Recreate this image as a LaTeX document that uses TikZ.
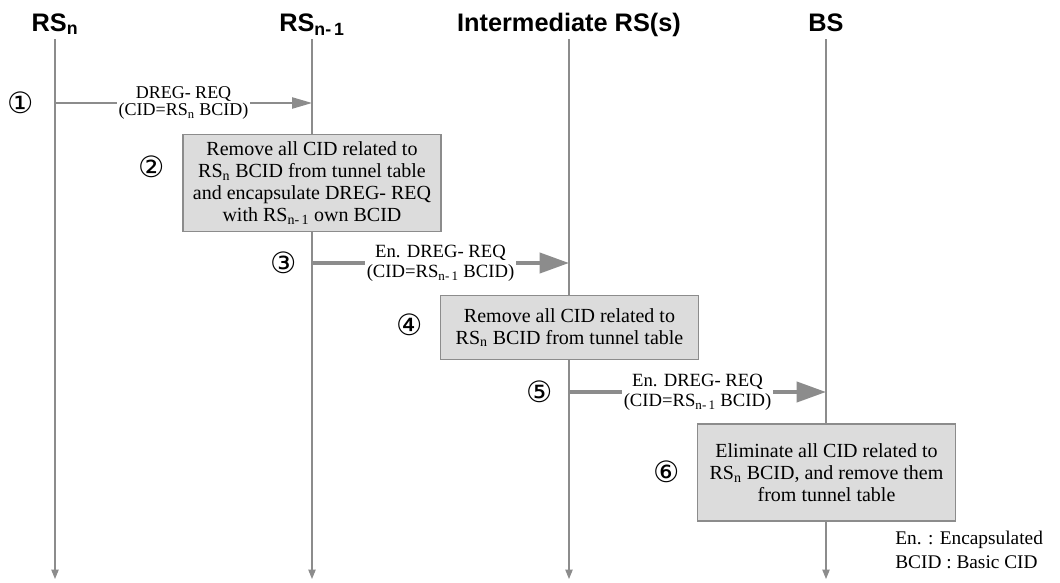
\documentclass[tikz,border=0pt]{standalone}
\usepackage{fontspec}
\setmainfont{Liberation Serif}
\newfontfamily\headfont{Liberation Sans}
\newfontfamily\symfont{DejaVu Sans}
\usetikzlibrary{arrows.meta}
\definecolor{lgray}{HTML}{8C8C8C}
\definecolor{boxfill}{HTML}{DCDCDC}
\begin{document}
\begin{tikzpicture}[x=0.75pt,y=-0.75pt,
  head/.style={font=\headfont\bfseries\fontsize{19}{20}\selectfont, anchor=base, inner sep=0pt},
  life/.style={draw=lgray, line width=0.8pt, -{Triangle[width=5.5pt,length=7pt]}},
  thinmsg/.style={draw=lgray, line width=1pt, -{Triangle[width=8.5pt,length=15pt]}},
  thickmsg/.style={draw=lgray, line width=3pt, -{Triangle[width=15pt,length=22pt]}},
  msgA/.style={fill=white, inner sep=1pt, align=center, font=\fontsize{13.5}{11}\selectfont},
  msgB/.style={fill=white, inner sep=1pt, align=center, font=\fontsize{14}{15}\selectfont},
  actbox/.style={draw=lgray, line width=0.8pt, fill=boxfill, align=center, inner sep=0pt,
    minimum width=193.5pt, font=\fontsize{15}{16.5}\selectfont},
  stepnum/.style={font=\symfont\fontsize{22}{22}\selectfont, inner sep=0pt},
  legend/.style={font=\fontsize{14.5}{17.5}\selectfont, align=left, anchor=north west, inner sep=0pt}
]
\useasboundingbox (0,0) rectangle (1060,582);

% headers
\node[head] (h1) at (55,31) {RS\textsubscript{n}};
\node[head] (h2) at (312,31) {RS\textsubscript{n-\,1}};
\node[head] (h3) at (569,31) {Intermediate RS(s)};
\node[head] (h4) at (826,31) {BS};

% lifeline ends
\coordinate (t1) at (55,39);   \coordinate (b1) at (55,579);
\coordinate (t2) at (312,39);  \coordinate (b2) at (312,579);
\coordinate (t3) at (569,39);  \coordinate (b3) at (569,579);
\coordinate (t4) at (826,39);  \coordinate (b4) at (826,579);
\draw[life] (t1) -- (b1);
\draw[life] (t2) -- (b2);
\draw[life] (t3) -- (b3);
\draw[life] (t4) -- (b4);

% message 1
\coordinate (m1s) at (55,103);  \coordinate (m1e) at (312,103);
\draw[thinmsg] (m1s) -- (m1e) node[msgA, midway] (l1) {DREG- REQ\\(CID=RS\textsubscript{n} BCID)};
\node[stepnum] (s1) at (21,103) {①};

% box 2
\node[actbox, minimum height=72.75pt] (box2) at (312,183)
  {Remove all CID related to\\RS\textsubscript{n} BCID from tunnel table\\and encapsulate DREG- REQ\\with RS\textsubscript{n-\,1} own BCID};
\node[stepnum] (s2) at (152,167) {②};

% message 3
\coordinate (m3s) at (312,263);  \coordinate (m3e) at (569,263);
\draw[thickmsg] (m3s) -- (m3e) node[msgB, midway] (l3) {En. DREG- REQ\\(CID=RS\textsubscript{n-\,1} BCID)};
\node[stepnum] (s3) at (284,263) {③};

% box 4
\node[actbox, minimum height=48pt] (box4) at (569.5,327.5)
  {Remove all CID related to\\RS\textsubscript{n} BCID from tunnel table};
\node[stepnum] (s4) at (410,325) {④};

% message 5
\coordinate (m5s) at (569,392);  \coordinate (m5e) at (826,392);
\draw[thickmsg] (m5s) -- (m5e) node[msgB, midway] (l5) {En. DREG- REQ\\(CID=RS\textsubscript{n-\,1} BCID)};
\node[stepnum] (s5) at (540,392) {⑤};

% box 6
\node[actbox, minimum height=72.75pt] (box6) at (826.5,472.5)
  {Eliminate all CID related to\\RS\textsubscript{n} BCID, and remove them\\from tunnel table};
\node[stepnum] (s6) at (667,472) {⑥};

% legend
\node[legend] (leg) at (895,531) {En. : Encapsulated\\BCID : Basic CID};
\end{tikzpicture}
\end{document}
